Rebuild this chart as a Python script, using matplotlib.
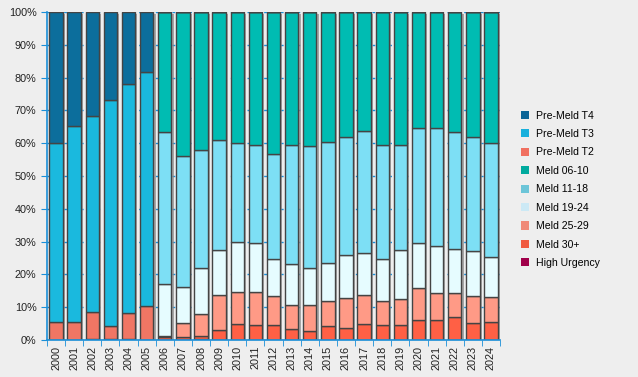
import numpy as np
import matplotlib
matplotlib.use("Agg")
import matplotlib.pyplot as plt
from matplotlib.patches import Patch

plt.rcParams['font.family'] = ['Liberation Sans', 'DejaVu Sans']

years = [str(y) for y in range(2000, 2025)]

# share of each group per year, in percent (bottom to top in the stack)
high_urgency = [0, 0, 0.3, 0.3, 0.3, 0, 0, 0, 0.3, 0, 0, 0, 0, 0, 0, 0, 0, 0, 0, 0, 0, 0, 0, 0, 0]
meld_30 = [0, 0, 0, 0, 0, 0, 0.8, 1.0, 0.9, 3.0, 4.8, 4.5, 4.5, 3.3, 2.7, 4.2, 3.6, 4.8, 4.5, 4.5, 6.0, 6.0, 6.9, 5.1, 5.4]
meld_25_29 = [0, 0, 0, 0, 0, 0, 0.5, 4.1, 6.6, 10.6, 10.0, 10.0, 8.8, 7.3, 7.9, 7.6, 9.1, 8.8, 7.3, 7.9, 9.8, 8.2, 7.3, 8.2, 7.6]
meld_19_24 = [0, 0, 0, 0, 0, 0, 15.9, 11.0, 14.1, 13.8, 15.0, 15.0, 11.3, 12.5, 11.3, 11.6, 13.1, 12.9, 12.8, 15.0, 13.7, 14.4, 13.5, 13.8, 12.2]
meld_11_18 = [0, 0, 0, 0, 0, 0, 46.1, 39.9, 36.0, 33.5, 30.2, 29.9, 32.1, 36.3, 37.2, 36.9, 36.0, 37.2, 34.8, 32.0, 35.1, 36.0, 35.6, 34.7, 34.8]
meld_06_10 = [0, 0, 0, 0, 0, 0, 36.7, 44.0, 42.1, 39.1, 40.0, 40.6, 43.3, 40.6, 40.9, 39.7, 38.2, 36.3, 40.6, 40.6, 35.4, 35.4, 36.7, 38.2, 40.0]
pre_t2 = [5.4, 5.4, 8.4, 4.0, 7.8, 10.3, 0, 0, 0, 0, 0, 0, 0, 0, 0, 0, 0, 0, 0, 0, 0, 0, 0, 0, 0]
pre_t3 = [54.6, 59.9, 59.7, 68.8, 69.9, 71.3, 0, 0, 0, 0, 0, 0, 0, 0, 0, 0, 0, 0, 0, 0, 0, 0, 0, 0, 0]
pre_t4 = [40.0, 34.7, 31.6, 26.9, 22.0, 18.4, 0, 0, 0, 0, 0, 0, 0, 0, 0, 0, 0, 0, 0, 0, 0, 0, 0, 0, 0]

series = [
    ('High Urgency', high_urgency, '#a0004a', '#a0004a'),
    ('Meld 30+', meld_30, '#ff6045', '#f05a40'),
    ('Meld 25-29', meld_25_29, '#ff9a86', '#f08a78'),
    ('Meld 19-24', meld_19_24, '#e6fcff', '#cce9f5'),
    ('Meld 11-18', meld_11_18, '#7ddff5', '#6cc5d8'),
    ('Meld 06-10', meld_06_10, '#00bcb2', '#00aa9e'),
    ('Pre-Meld T2', pre_t2, '#f07664', '#f07060'),
    ('Pre-Meld T3', pre_t3, '#1ab9de', '#18b0dc'),
    ('Pre-Meld T4', pre_t4, '#0c6e9c', '#0a6496'),
]

blue = '#1a8fd8'
bg = '#eeeeee'
x = np.arange(len(years))
w = 0.74

fig = plt.figure(figsize=(6.38, 3.77), dpi=100, facecolor=bg)
ax = fig.add_axes([0.0737, 0.098, 0.71, 0.87])
ax.set_facecolor(bg)

# shadow behind each bar
ax.bar(x + 0.12, 100, width=w, bottom=-0.6, color='#888888', alpha=0.7, zorder=1)

bottom = np.zeros(len(years))
for name, vals, col, _ in series:
    vals = np.array(vals)
    ax.bar(x, vals, width=w, bottom=bottom, color=col, edgecolor='#444444',
           linewidth=1, zorder=2)
    bottom += vals

ax.set_xlim(-0.5, len(years) - 0.5)
ax.set_ylim(0, 100)
ax.set_yticks(np.arange(0, 101, 10))
ax.set_yticklabels([f'{v}%' for v in range(0, 101, 10)])
ax.yaxis.grid(True, color=blue, linestyle=(0, (2, 4)), linewidth=1)
ax.set_axisbelow(True)

ax.set_xticks(x)
ax.set_xticklabels(years, rotation=90)
ax.set_xticks(np.arange(-0.5, len(years), 1), minor=True)
ax.tick_params(axis='x', which='major', length=0, pad=4, labelsize=7.8, colors='#222222')
ax.tick_params(axis='x', which='minor', length=4, color=blue)
ax.tick_params(axis='y', length=4, color=blue, labelsize=7.8, labelcolor='#222222')

for s in ['top', 'right']:
    ax.spines[s].set_visible(False)
for s in ['left', 'bottom']:
    ax.spines[s].set_color(blue)
    ax.spines[s].set_linewidth(1.2)

handles = [Patch(facecolor=lc, edgecolor='none', label=name) for name, _, _, lc in series[::-1]]
fig.legend(handles=handles, loc='upper left', bbox_to_anchor=(0.81, 0.718),
           frameon=False, fontsize=7.6, handlelength=0.8, handleheight=0.8,
           handletextpad=0.6, labelspacing=0.8, borderaxespad=0)

fig.savefig('out.png', dpi=100, facecolor=bg)
